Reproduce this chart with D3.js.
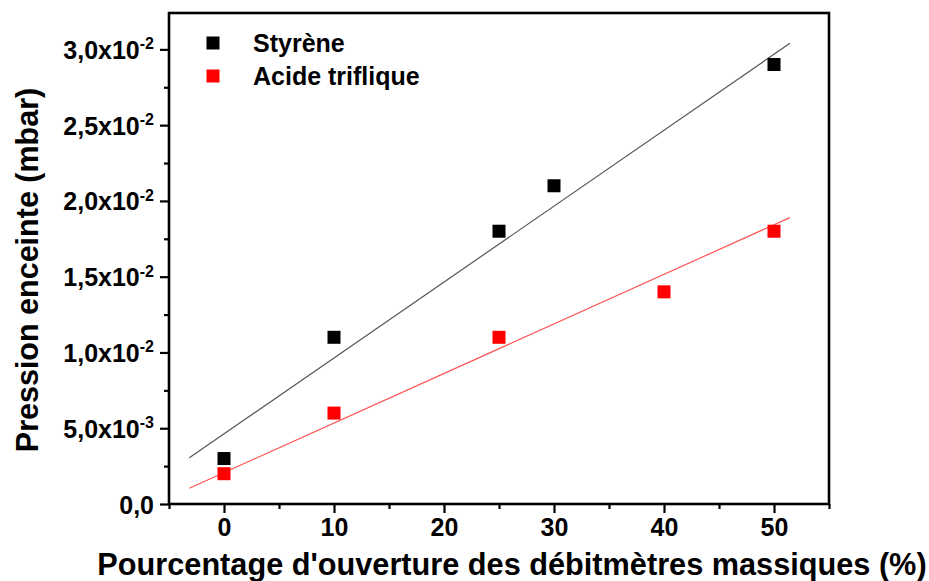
<!DOCTYPE html>
<html>
<head>
<meta charset="utf-8">
<script src="https://cdn.jsdelivr.net/npm/d3@7"></script>
<style>
  body { margin: 0; background: #fff; }
  svg { display: block; }
  text { font-family: "Liberation Sans", Arial, sans-serif; font-weight: bold; fill: #000; }
</style>
</head>
<body>
<div id="chart"></div>
<script>
// DATA
const seriesNames = ["Styrène", "Acide triflique"];
const seriesColors = ["#000000", "#ff0000"];
const fitColors = ["#555555", "#ff5555"];

const xStyrene = [0, 10, 25, 30, 50];
const yStyrene = [0.003, 0.011, 0.018, 0.021, 0.029];

const xTriflique = [0, 10, 25, 40, 50];
const yTriflique = [0.002, 0.006, 0.011, 0.014, 0.018];

// linear fit end points (x, y)
const fitStyrene = [[-3.15, 0.00305], [51.45, 0.0304]];
const fitTriflique = [[-3.15, 0.00104], [51.45, 0.0189]];

const xTicks = [0, 10, 20, 30, 40, 50];
const xMinorTicks = [-5, 5, 15, 25, 35, 45, 55];
const yTicks = [0, 0.005, 0.01, 0.015, 0.02, 0.025, 0.03];
const yMinorTicks = [0.0025, 0.0075, 0.0125, 0.0175, 0.0225, 0.0275];
const yTickMantissa = ["0,0", "5,0x10", "1,0x10", "1,5x10", "2,0x10", "2,5x10", "3,0x10"];
const yTickExponent = ["", "-3", "-2", "-2", "-2", "-2", "-2"];

const xTitle = "Pourcentage d'ouverture des débitmètres massiques (%)";
const yTitle = "Pression enceinte (mbar)";

// SET DIMENSIONS AND MARGINS
const W = 929, H = 581;
const margin = { top: 13, right: 100, bottom: 77, left: 169 };
const width = W - margin.left - margin.right;
const height = H - margin.top - margin.bottom;

// SCALES
const x = d3.scaleLinear().domain([-5, 55]).range([0, width]);
const y = d3.scaleLinear().domain([0, 0.0324]).range([height, 0]);

const svg = d3.select("#chart")
  .append("svg")
  .attr("width", W)
  .attr("height", H);

const g = svg.append("g")
  .attr("transform", `translate(${margin.left}, ${margin.top})`);

// FIT LINES
const line = d3.line().x(d => x(d[0])).y(d => y(d[1]));
[fitStyrene, fitTriflique].forEach((f, i) => {
  g.append("path")
    .datum(f)
    .attr("d", line)
    .attr("fill", "none")
    .attr("stroke", fitColors[i])
    .attr("stroke-width", 1.2);
});

// POINTS
const sq = 13;
const series = [
  xStyrene.map((v, i) => [v, yStyrene[i]]),
  xTriflique.map((v, i) => [v, yTriflique[i]])
];
series.forEach((pts, i) => {
  g.selectAll(null)
    .data(pts)
    .join("rect")
    .attr("x", d => x(d[0]) - sq / 2)
    .attr("y", d => y(d[1]) - sq / 2)
    .attr("width", sq)
    .attr("height", sq)
    .attr("fill", seriesColors[i]);
});

// FRAME
g.append("rect")
  .attr("x", 0).attr("y", 0)
  .attr("width", width).attr("height", height)
  .attr("fill", "none")
  .attr("stroke", "#000")
  .attr("stroke-width", 2.6);

// X AXIS
const xAxis = g.append("g")
  .attr("transform", `translate(0, ${height})`)
  .call(d3.axisBottom(x).tickValues(xTicks).tickSize(9).tickPadding(5).tickFormat(d3.format("d")));
g.append("g")
  .attr("transform", `translate(0, ${height})`)
  .call(d3.axisBottom(x).tickValues(xMinorTicks).tickSize(5).tickFormat(""));

// Y AXIS
const yAxis = g.append("g")
  .call(d3.axisLeft(y).tickValues(yTicks).tickSize(9).tickPadding(6).tickFormat(""));
g.append("g")
  .call(d3.axisLeft(y).tickValues(yMinorTicks).tickSize(5).tickFormat(""));

g.selectAll(".domain").remove();
g.selectAll(".tick line").attr("stroke", "#000").attr("stroke-width", 2.2);

xAxis.selectAll("text")
  .style("font-family", "'Liberation Sans', Arial, sans-serif")
  .style("font-weight", "bold")
  .attr("font-size", 25)
  .attr("fill", "#000");

// Y tick labels with superscript exponent
yAxis.selectAll(".tick").each(function(d, i) {
  const t = d3.select(this).append("text")
    .attr("x", -15)
    .attr("dy", "0.36em")
    .attr("text-anchor", "end")
    .attr("font-size", 25);
  t.append("tspan").text(yTickMantissa[i]);
  if (yTickExponent[i]) {
    t.append("tspan")
      .attr("font-size", 16)
      .attr("dy", "-0.6em")
      .text(yTickExponent[i]);
  }
});

// LEGEND
const legend = g.append("g");
seriesNames.forEach((name, i) => {
  legend.append("rect")
    .attr("x", 44 - sq / 2)
    .attr("y", 30 + i * 33 - sq / 2)
    .attr("width", sq).attr("height", sq)
    .attr("fill", seriesColors[i]);
  legend.append("text")
    .attr("x", 84)
    .attr("y", 30 + i * 33)
    .attr("dy", "0.36em")
    .attr("font-size", 25)
    .text(name);
});

// AXIS TITLES
svg.append("text")
  .attr("x", 512)
  .attr("y", 575)
  .attr("text-anchor", "middle")
  .attr("font-size", 30.7)
  .text(xTitle);

svg.append("text")
  .attr("transform", "translate(38, 270) rotate(-90)")
  .attr("text-anchor", "middle")
  .attr("font-size", 30.5)
  .text(yTitle);
</script>
</body>
</html>
